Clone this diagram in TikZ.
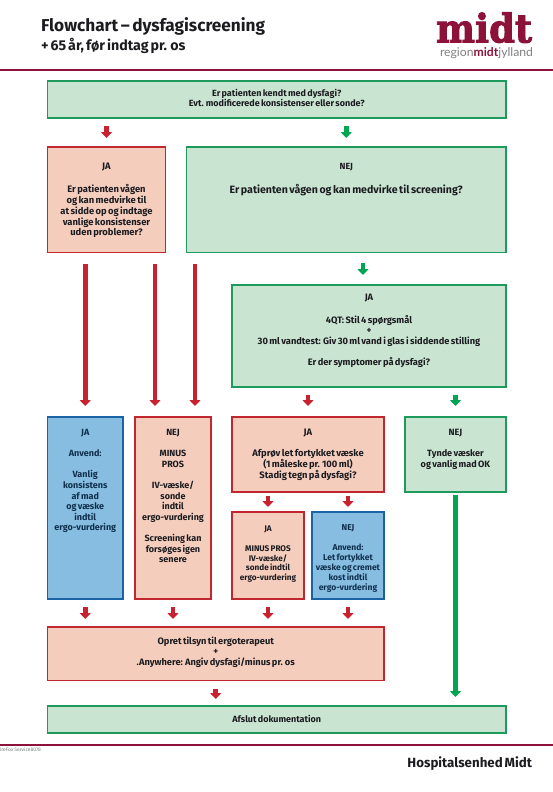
\documentclass[tikz,border=0pt]{standalone}
\usepackage{fontspec}
\setmainfont{Fira Sans}[WordSpace=0.62,BoldFont=* Bold]
\newfontfamily\logofont{DejaVu Serif}[BoldFeatures={FakeBold=2.5}]
\newfontfamily\reglogo{Lato}
\usetikzlibrary{arrows.meta,calc}
\definecolor{rb}{HTML}{C0272F}\definecolor{rf}{HTML}{F4CDBD}
\definecolor{gb}{HTML}{1F9A5C}\definecolor{gf}{HTML}{C9E5D1}
\definecolor{bb}{HTML}{1A64A6}\definecolor{bf}{HTML}{87BDE0}
\definecolor{ra}{HTML}{C8212F}\definecolor{ga}{HTML}{00A552}
\definecolor{rule}{HTML}{8C1239}\definecolor{ink}{HTML}{1C1C20}
\definecolor{bink}{HTML}{10304F}
\tikzset{
  redbox/.style={draw=rb,fill=rf,line width=1.3pt,text=ink},
  greenbox/.style={draw=gb,fill=gf,line width=1.3pt,text=ink},
  bluebox/.style={draw=bb,fill=bf,line width=1.3pt,text=bink},
  flowbox/.style={inner sep=0pt,outer sep=0pt,anchor=north west},
  arrowR/.style={draw=ra,line width=4.8pt,-{Triangle[width=11pt,length=6pt,fill=ra]}},
  arrowG/.style={draw=ga,line width=4.8pt,-{Triangle[width=11pt,length=6pt,fill=ga]}},
  headrule/.style={draw=rule,line width=1.5pt},
  plain/.style={inner sep=0pt,outer sep=0pt,text=ink}
}
\newcommand{\bl}{\\[10.7pt]}
% name, style, x0, y0, x1, y1, first-line centre y, font size, leading, text
\newcommand{\bx}[9]{%
  \node[flowbox,#2] (#1) at (#3,#4) {\parbox[c][\dimexpr#6pt-#4pt\relax][t]{\dimexpr#5pt-#3pt\relax}{%
    \centering\fontsize{#8}{#9}\selectfont\bfseries\vspace*{\dimexpr#7pt-#4pt-0.7\baselineskip+3.2pt\relax}\strut\BxText}};}
\begin{document}
\begin{tikzpicture}[x=1pt,y=-1pt]
\useasboundingbox (0,0) rectangle (553,792);
% header
\node[plain,anchor=west,font=\fontsize{17.2}{18}\selectfont\bfseries] (title) at (41,26) {Flowchart – dysfagiscreening};
\node[plain,anchor=west,font=\fontsize{14.2}{15}\selectfont\bfseries] (sub) at (41,46) {+ 65 år, før indtag pr. os};
\node[plain,anchor=south west,text=rule] (logo) at (436,43) {\resizebox{96pt}{30pt}{\logofont\bfseries midt}};
\node[plain,anchor=south west,text=gray] (region) at (440,59) {\resizebox{93pt}{9pt}{\reglogo region\textcolor{rule}{\bfseries midt}jylland}};
\coordinate (r1a) at (0,70); \coordinate (r1b) at (553,70);
\coordinate (r2a) at (0,745); \coordinate (r2b) at (553,745);
\draw[headrule] (r1a) -- (r1b);
\draw[headrule] (r2a) -- (r2b);
\node[plain,anchor=west,text=gray,font=\fontsize{5}{5}\selectfont] (svc) at (0,749.5) {ireFox Service8078};
\node[plain,anchor=east,font=\fontsize{13.3}{15}\selectfont\bfseries] (hosp) at (532,764) {Hospitalsenhed Midt};
% boxes
\def\BxText{Er patienten kendt med dysfagi?\\Evt. modificerede konsistenser eller sonde?}
\bx{q}{greenbox}{47.5}{81}{506}{118}{93}{9}{10.7}
\def\BxText{JA\bl Er patienten vågen\\og kan medvirke til\\at sidde op og indtage\\vanlige konsistenser\\uden problemer?}
\bx{ja}{redbox}{47.5}{147}{165.5}{252.5}{166}{9.4}{10.9}
\def\BxText{NEJ\\[10.7pt]{\fontsize{10.6}{10.7}\selectfont Er patienten vågen og kan medvirke til screening?}}
\bx{nej}{greenbox}{186.5}{147}{506}{252.5}{166}{8.9}{10.7}
\def\BxText{JA\bl 4QT: Stil 4 spørgsmål\\+\\30 ml vandtest: Giv 30 ml vand i glas i siddende stilling\bl Er der symptomer på dysfagi?}
\bx{screen}{greenbox}{232}{285}{506}{387}{297}{9.3}{10.6}
\def\BxText{JA\bl Anvend:\bl Vanlig\\konsistens\\af mad\\og væske\\indtil\\ergo-vurdering}
\bx{bja}{bluebox}{47.5}{417}{123}{599}{432}{9}{10.6}
\def\BxText{NEJ\bl MINUS\\PROS\bl IV-væske/\\sonde\\indtil\\ergo-vurdering\bl Screening kan\\forsøges igen\\senere}
\bx{rnej}{redbox}{135}{417}{211}{599}{432}{9}{10.6}
\def\BxText{JA\bl Afprøv let fortykket væske\\(1 måleske pr. 100 ml)\\Stadig tegn på dysfagi?}
\bx{rja}{redbox}{232}{417}{384}{492}{432}{9.4}{10.7}
\def\BxText{NEJ\bl Tynde væsker\\og vanlig mad OK}
\bx{gnej}{greenbox}{405}{417}{506}{492}{432}{9.1}{10.7}
\def\BxText{JA\bl MINUS PROS\\IV-væske/\\sonde indtil\\ergo-vurdering}
\bx{sja}{redbox}{232}{512}{304}{599}{528}{8.2}{9.6}
\def\BxText{NEJ\bl Anvend:\\Let fortykket\\væske og cremet\\kost indtil\\ergo-vurdering}
\bx{snej}{bluebox}{312}{512}{384}{599}{527}{8.5}{9.9}
\def\BxText{Opret tilsyn til ergoterapeut\\+\\.Anywhere: Angiv dysfagi/minus pr. os}
\bx{opret}{redbox}{47.5}{627}{384}{680.5}{641}{9.3}{10.7}
\def\BxText{Afslut dokumentation}
\bx{afslut}{greenbox}{47.5}{706}{506}{733}{719}{9}{10.7}
% connectors
\draw[arrowR,shorten <=8pt,shorten >=9pt] (ja.north |- q.south) -- (ja.north);
\draw[arrowG,shorten <=8pt,shorten >=9pt] (nej.north |- q.south) -- (nej.north);
\draw[arrowG,shorten <=10.5pt,shorten >=10pt] ([xshift=-6pt]screen.north |- nej.south) -- ([xshift=-6pt]screen.north);
\draw[arrowR,shorten <=11.5pt,shorten >=11pt] (bja.north |- ja.south) -- (bja.north);
\draw[arrowR,shorten <=11.5pt,shorten >=11pt] ([xshift=-18pt]rnej.north |- ja.south) -- ([xshift=-18pt]rnej.north);
\draw[arrowR,shorten <=11.5pt,shorten >=11pt] ([xshift=22pt]rnej.north |- ja.south) -- ([xshift=22pt]rnej.north);
\draw[arrowR,shorten <=8pt,shorten >=11pt] (rja.north |- screen.south) -- (rja.north);
\draw[arrowG,shorten <=8pt,shorten >=11pt] (gnej.north |- screen.south) -- (gnej.north);
\draw[arrowR,shorten <=4pt,shorten >=5pt] (sja.north |- rja.south) -- (sja.north);
\draw[arrowR,shorten <=4pt,shorten >=5pt] (snej.north |- rja.south) -- (snej.north);
\draw[arrowG,shorten <=3pt,shorten >=9pt] (gnej.south) -- (gnej.south |- afslut.north);
\draw[arrowR,shorten <=8pt,shorten >=8pt] (bja.south) -- (bja.south |- opret.north);
\draw[arrowR,shorten <=8pt,shorten >=8pt] (rnej.south) -- (rnej.south |- opret.north);
\draw[arrowR,shorten <=8pt,shorten >=8pt] (sja.south) -- (sja.south |- opret.north);
\draw[arrowR,shorten <=8pt,shorten >=8pt] (snej.south) -- (snej.south |- opret.north);
\draw[arrowR,shorten <=8pt,shorten >=7pt] (opret.south) -- (opret.south |- afslut.north);
\end{tikzpicture}
\end{document}
